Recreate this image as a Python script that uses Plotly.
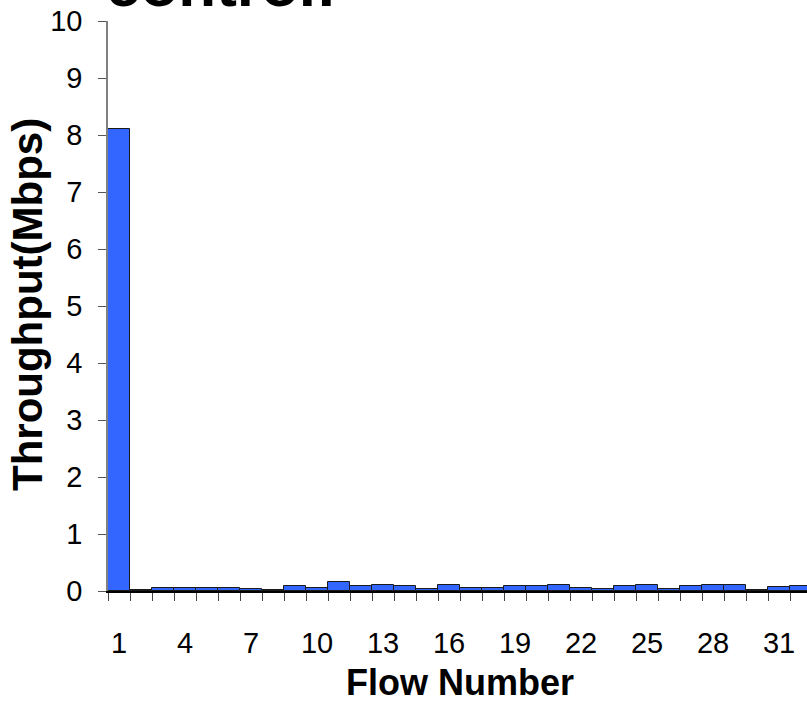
import plotly.graph_objects as go

flows = list(range(1, 33))
throughput = [8.1, 0.02, 0.06, 0.06, 0.06, 0.06, 0.04, 0.02, 0.08, 0.06,
              0.16, 0.08, 0.10, 0.08, 0.03, 0.10, 0.06, 0.06, 0.08, 0.08,
              0.10, 0.06, 0.04, 0.08, 0.10, 0.04, 0.08, 0.10, 0.10, 0.01,
              0.07, 0.08]
x_tick_vals = [1, 4, 7, 10, 13, 16, 19, 22, 25, 28, 31]
y_tick_vals = list(range(0, 11))

W, H = 807, 703
ML, MR, MT, MB = 108, 0, 21, 112
PW = W - ML - MR
PH = H - MT - MB
cat_px = 22.0

font_family = "Liberation Sans, Arial, sans-serif"

fig = go.Figure()
fig.add_trace(go.Bar(
    x=flows, y=throughput,
    marker=dict(color="#3366FF", line=dict(color="#1a1a1a", width=1)),
    width=1.0,
))

fig.update_layout(
    width=W, height=H,
    margin=dict(l=ML, r=MR, t=MT, b=MB, autoexpand=False),
    paper_bgcolor="white", plot_bgcolor="white",
    showlegend=False,
    bargap=0,
    font=dict(family=font_family, color="black"),
)

fig.update_xaxes(
    range=[0.5, 0.5 + PW / cat_px],
    tickmode="array", tickvals=x_tick_vals, ticktext=[str(v) for v in x_tick_vals],
    ticks="", tickfont=dict(size=29, family=font_family, color="black"),
    ticklabelstandoff=25,
    showline=True, linecolor="black", linewidth=2,
    showgrid=False, zeroline=False,
    minor=dict(tickmode="array", tickvals=[v + 0.5 for v in range(0, 33)],
               ticks="outside", ticklen=8, tickcolor="#444444", tickwidth=1,
               showgrid=False),
)

fig.update_yaxes(
    range=[0, 10],
    tickmode="array", tickvals=y_tick_vals,
    ticks="outside", ticklen=8, tickcolor="#555555", tickwidth=1,
    tickfont=dict(size=29, family=font_family, color="black"),
    ticklabelstandoff=10,
    showline=True, linecolor="#808080", linewidth=1.5,
    showgrid=False, zeroline=False,
)

# y-axis title
fig.add_annotation(
    text="<b>Throughput(Mbps)</b>", textangle=-90,
    xref="paper", yref="paper",
    x=(27 - ML) / PW, y=(MT + PH - 305) / PH,
    xanchor="center", yanchor="middle", showarrow=False,
    font=dict(size=42, family=font_family, color="black"),
)
# x-axis title
fig.add_annotation(
    text="<b>Flow Number</b>",
    xref="paper", yref="paper",
    x=(460 - ML) / PW, y=-(682 - (MT + PH)) / PH,
    xanchor="center", yanchor="middle", showarrow=False,
    font=dict(size=36, family=font_family, color="black"),
)
# chart title (mostly cut off at the top)
fig.add_annotation(
    text="<b>control:</b>",
    xref="paper", yref="paper",
    x=(104 - ML) / PW, y=1 + (MT + 16) / PH,
    xanchor="left", yanchor="middle", showarrow=False,
    font=dict(size=62, family=font_family, color="black"),
)

fig.write_html("out.html")
